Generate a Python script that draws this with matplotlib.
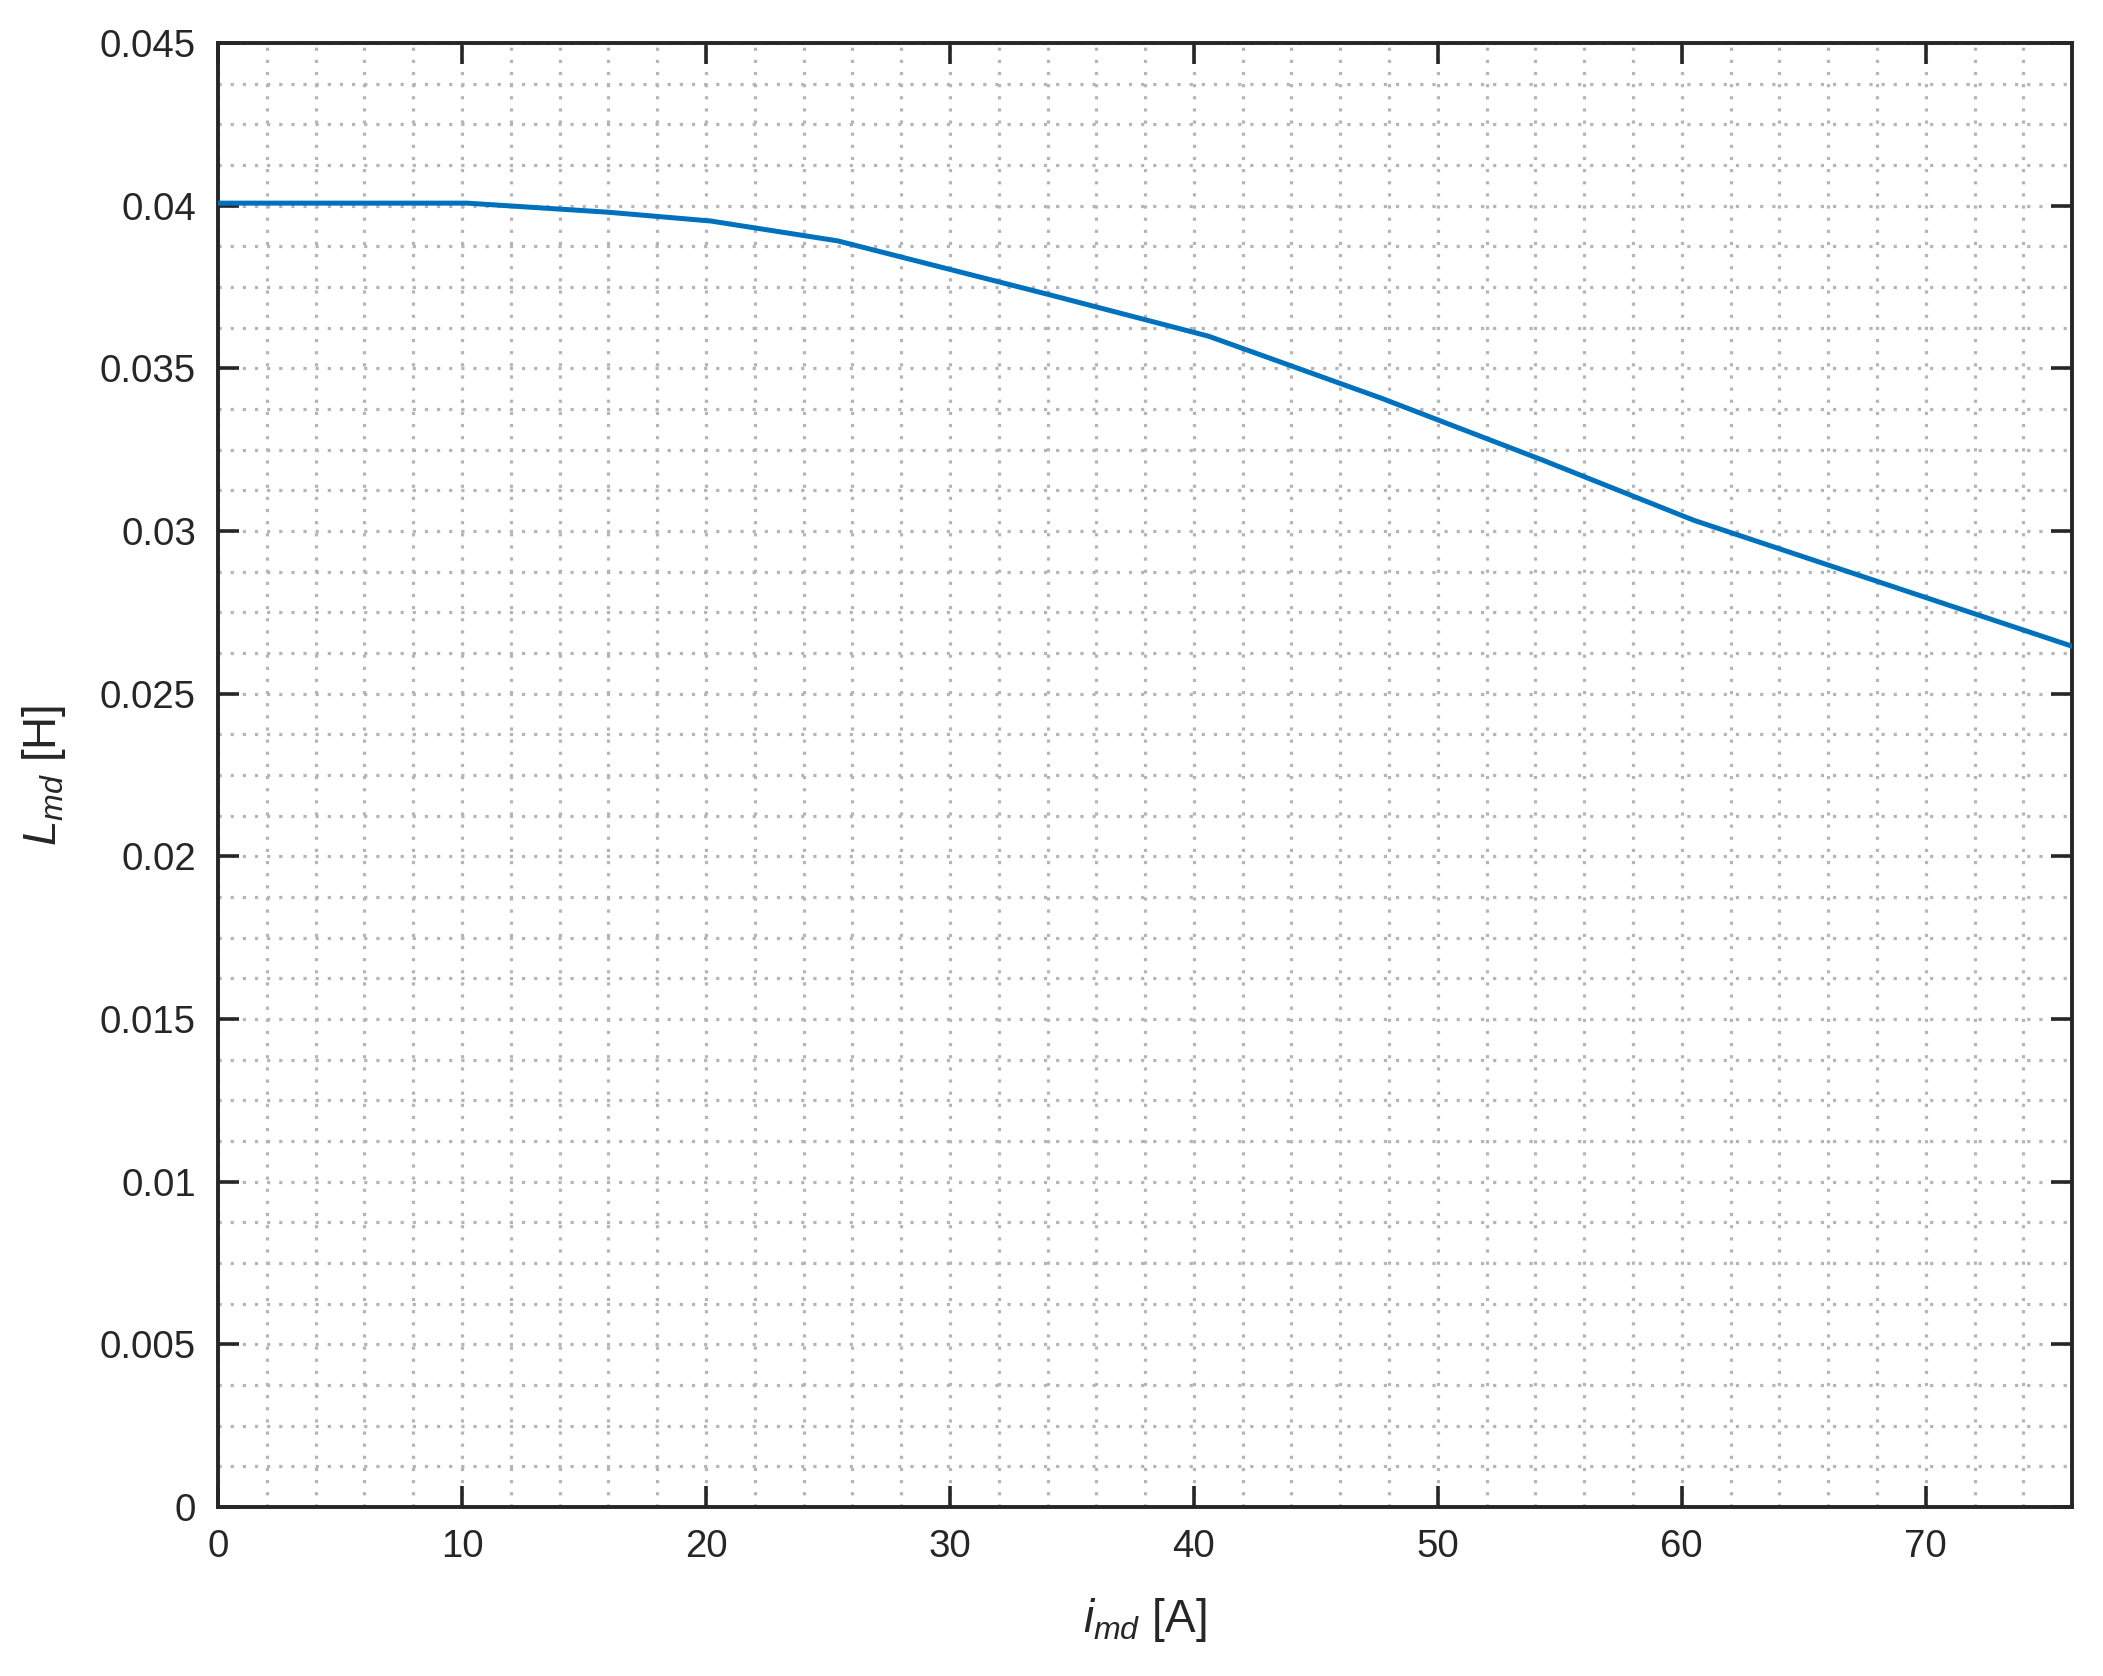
import matplotlib
matplotlib.use("Agg")
import matplotlib.pyplot as plt
from matplotlib.ticker import MultipleLocator, FormatStrFormatter

# d-axis magnetising inductance vs current
i_md = [0, 10.2, 16, 20.2, 25.4, 34, 40.6, 47.7, 54.3, 60.5, 76]
L_md = [0.04008, 0.04008, 0.0398, 0.03953, 0.03892, 0.03728, 0.03599,
        0.03408, 0.03218, 0.03033, 0.02646]

x_ticks = [0, 10, 20, 30, 40, 50, 60, 70]
y_ticks = [0, 0.005, 0.01, 0.015, 0.02, 0.025, 0.03, 0.035, 0.04, 0.045]

plt.rcParams['font.family'] = ['Liberation Sans', 'DejaVu Sans']
plt.rcParams['mathtext.fontset'] = 'custom'
plt.rcParams['mathtext.it'] = 'Liberation Sans:italic'
plt.rcParams['mathtext.rm'] = 'Liberation Sans'

dark = '#262626'

fig = plt.figure(figsize=(10.515, 8.38), dpi=200)
ax = fig.add_axes([0.1037, 0.1008, 0.8816, 0.8735])

ax.plot(i_md, L_md, color='#0072BD', linewidth=1.8, zorder=3)

ax.set_xlim(0, 76)
ax.set_ylim(0, 0.045)
ax.set_xticks(x_ticks)
ax.set_yticks(y_ticks)
ax.xaxis.set_minor_locator(MultipleLocator(2))
ax.yaxis.set_minor_locator(MultipleLocator(0.00125))
ax.yaxis.set_major_formatter(FormatStrFormatter('%g'))

# dotted grid, major and minor drawn the same way
for which in ['major', 'minor']:
    ax.grid(True, which=which, color='#b5b5b5', linewidth=1.15,
            linestyle=(0, (1, 2.8)))
ax.set_axisbelow(True)

ax.tick_params(which='major', direction='in', length=7.5, width=1.3,
               colors=dark, labelsize=13.8, pad=8,
               top=True, right=True)
ax.tick_params(which='minor', length=0, top=True, right=True)

for s in ax.spines.values():
    s.set_linewidth(1.4)
    s.set_color(dark)

ax.set_xlabel(r'$i_{md}$ [A]', fontsize=16.5, color=dark, labelpad=11)
ax.set_ylabel(r'$L_{md}$ [H]', fontsize=16.5, color=dark, labelpad=11.5)

fig.savefig('out.png', dpi=200)
